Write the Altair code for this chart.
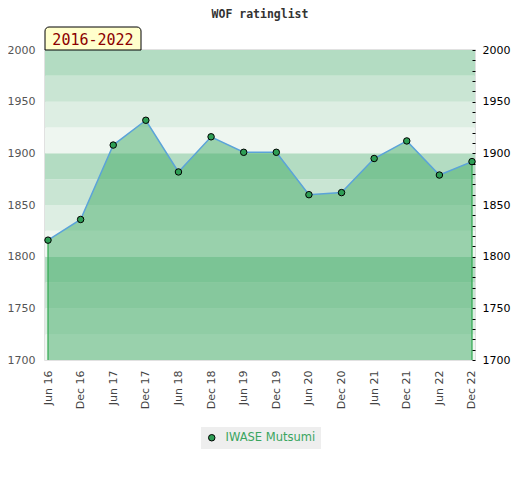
import altair as alt
import pandas as pd

# ---- data ----
months = ["Jun 16", "Dec 16", "Jun 17", "Dec 17", "Jun 18", "Dec 18", "Jun 19",
          "Dec 19", "Jun 20", "Dec 20", "Jun 21", "Dec 21", "Jun 22", "Dec 22"]
ratings = [1816, 1836, 1908, 1932, 1882, 1916, 1901, 1901, 1860, 1862, 1895, 1912, 1879, 1892]
player = ["IWASE Mutsumi"]
period = ["2016-2022"]

band_lo = [1700, 1725, 1750, 1775, 1800, 1825, 1850, 1875, 1900, 1925, 1950, 1975]
band_hi = [1725, 1750, 1775, 1800, 1825, 1850, 1875, 1900, 1925, 1950, 1975, 2000]
band_colors = ["#eef6f0", "#ddeee3", "#c9e5d3", "#b3dcc2"] * 3

left_ticks = [1700, 1750, 1800, 1850, 1900, 1950, 2000]
right_ticks = list(range(1700, 2001, 10))

df = pd.DataFrame({"month": months, "rating": ratings, "name": player[0]})
edges = df.iloc[[0, len(df) - 1]]
bands = pd.DataFrame({"lo": band_lo, "hi": band_hi, "c": band_colors})
lab = pd.DataFrame({"t": period})

W, H = 430, 310
ydom = [1700, 2000]

xs = alt.Scale(type="point", domain=months, padding=0.092)
ys = alt.Scale(domain=ydom, nice=False, zero=False)

x_axis = alt.Axis(title=None, labelAngle=270, ticks=False, domain=False,
                  labelPadding=10, labelColor="#444", labelFont="DejaVu Sans",
                  labelFontSize=11)
x_enc = alt.X("month:N", scale=xs, sort=months, axis=x_axis)
y_plain = alt.Y("rating:Q", scale=ys, axis=None)

y_left_axis = alt.Axis(title=None, orient="left", values=left_ticks, format="d",
                       ticks=False, domain=False, grid=False, labelPadding=10,
                       labelColor="#555", labelFont="DejaVu Sans", labelFontSize=11)

band_layer = alt.Chart(bands).mark_rect().encode(
    y=alt.Y("lo:Q", scale=ys, axis=y_left_axis),
    y2="hi:Q",
    x=alt.value(0), x2=alt.value(W),
    fill=alt.Fill("c:N", scale=None),
)

area = alt.Chart(df).mark_area(color="#44ac68", opacity=0.5).encode(
    x=x_enc,
    y=y_plain,
    y2=alt.datum(1700),
)

edge_rules = alt.Chart(edges).mark_rule(color="#2fa84f", strokeWidth=1.2).encode(
    x=x_enc,
    y=y_plain,
    y2=alt.datum(1700),
)

line = alt.Chart(df).mark_line(color="#5ba3d9", strokeWidth=1.5).encode(
    x=x_enc,
    y=y_plain,
)

right_axis = alt.Chart(pd.DataFrame({"v": right_ticks})).mark_tick(opacity=0).encode(
    y=alt.Y("v:Q", scale=ys,
            axis=alt.Axis(title=None, orient="right", values=right_ticks, format="d",
                          offset=-3, tickSize=3, tickWidth=1, tickColor="#000",
                          domain=False, grid=False, zindex=1,
                          labelPadding=7, labelColor="#000", labelFont="DejaVu Sans",
                          labelFontSize=11,
                          labelExpr="datum.value % 50 === 0 ? datum.label : ''")),
)

points = alt.Chart(df).mark_circle(size=42, stroke="black", strokeWidth=1, opacity=1).encode(
    x=x_enc,
    y=y_plain,
    color=alt.Color("name:N", scale=alt.Scale(range=["#2e9e55"]),
                    legend=alt.Legend(title=None, orient="none", legendX=156, legendY=377,
                                      fillColor="#eeeeee", padding=5, labelOffset=8,
                                      symbolSize=42, symbolStrokeColor="black",
                                      symbolStrokeWidth=1, labelColor="#3aa55f",
                                      labelFont="DejaVu Sans", labelFontSize=11.5)),
)

box = alt.Chart(lab).mark_rect(fill="#ffffcc", stroke="black", strokeWidth=1,
                               cornerRadiusTopLeft=4, cornerRadiusTopRight=4).encode(
    x=alt.value(0), x2=alt.value(96), y=alt.value(-23), y2=alt.value(0),
)
box_text = alt.Chart(lab).mark_text(font="DejaVu Sans Mono", fontSize=15, color="#8b0000",
                                    align="center", baseline="middle").encode(
    text="t:N", x=alt.value(48), y=alt.value(-10),
)

chart = alt.layer(band_layer, area, edge_rules, line, right_axis, points, box, box_text).resolve_scale(
    y="shared"
).resolve_axis(y="independent").properties(
    width=W, height=H,
    autosize="none",
    padding={"left": 37, "top": 42, "right": 37, "bottom": 112},
    title=alt.TitleParams("WOF ratinglist", font="DejaVu Sans Mono", fontSize=11.5,
                          fontWeight="bold", color="#333", anchor="middle", frame="group",
                          offset=6),
).configure_view(stroke="#d8d8d8", strokeWidth=1.5)

chart.save("out.html", embed_options={"renderer": "svg", "actions": False})
